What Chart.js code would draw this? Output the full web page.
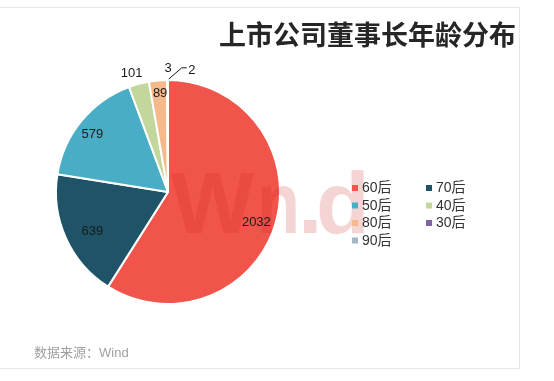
<!DOCTYPE html>
<html>
<head>
<meta charset="utf-8">
<script src="https://cdn.jsdelivr.net/npm/chart.js@4/dist/chart.umd.min.js"></script>
<style>
  html, body { margin: 0; padding: 0; background: #ffffff; }
  #wrap { position: relative; width: 554px; height: 381px; overflow: hidden; }
  #frame { position: absolute; left: -2px; top: 7px; width: 522px; height: 362px;
           border: 1px solid #e6e6e6; box-sizing: border-box; }
  #title { position: absolute; right: 38px; top: 20px; font: bold 27px "Noto Sans CJK SC", sans-serif;
           color: #262626; line-height: 1; white-space: nowrap; }
  #source { position: absolute; left: 34px; top: 345px; font: 13px "Noto Sans CJK SC", sans-serif;
            color: #a0a0a0; line-height: 1; white-space: nowrap; }
  #source span { font-family: "Liberation Sans", Arial, sans-serif; }
  canvas { position: absolute; left: 0; top: 0; }
</style>
</head>
<body>
<div id="wrap">
  <div id="frame"></div>
  <canvas id="c" width="554" height="381"></canvas>
  <div id="title">上市公司董事长年龄分布</div>
  <div id="source">数据来源：<span>Wind</span></div>
</div>
<script>
// Age cohorts of listed-company chairmen and their counts
const categories = ['60后', '70后', '50后', '40后', '80后', '30后', '90后'];
const counts = [2032, 639, 579, 101, 89, 3, 2];
const colors = ['#f0544a', '#1f5468', '#4aadc6', '#c3d69b', '#f6b98b', '#8064a2', '#a5b5c8'];

// Where each value label sits: fraction of the radius along the slice's mid angle,
// plus a small pixel nudge (used for the two tiny slices at the top).
const labelPlacement = [
  { r: 0.84, dx: -2, dy: 4 },
  { r: 0.77, dx: 3, dy: 4 },
  { r: 0.85, dx: -2, dy: 3 },
  { r: 1.11, dx: -4, dy: 1 },
  { r: 0.88, dx: 1, dy: 0 },
  { r: 1.10, dx: 1, dy: 0 },
  { r: 1.10, dx: 24, dy: 2, leader: true }
];

const FONT_LATIN = '"Liberation Sans", Arial, "Noto Sans CJK SC", sans-serif';

// Faint "Wind" mark laid over the plot
const watermark = {
  id: 'watermark',
  afterDatasetsDraw(chart) {
    const ctx = chart.ctx;
    ctx.save();
    ctx.fillStyle = 'rgba(205, 40, 40, 0.2)';
    ctx.font = 'bold 88px ' + FONT_LATIN;
    ctx.textBaseline = 'alphabetic';
    ctx.textAlign = 'left';
    ctx.fillText('W', 171, 233);
    ctx.fillText('n', 257, 233, 43);
    ctx.fillText('.', 298, 233);
    ctx.fillText('d', 316, 233);
    ctx.restore();
  }
};

const valueLabels = {
  id: 'valueLabels',
  afterDatasetsDraw(chart) {
    const ctx = chart.ctx;
    const meta = chart.getDatasetMeta(0);
    ctx.save();
    ctx.font = '13px ' + FONT_LATIN;
    ctx.fillStyle = '#1a1a1a';
    ctx.textAlign = 'center';
    ctx.textBaseline = 'middle';
    meta.data.forEach((arc, i) => {
      const p = arc.getProps(['x', 'y', 'startAngle', 'endAngle', 'outerRadius'], true);
      const mid = (p.startAngle + p.endAngle) / 2;
      const pl = labelPlacement[i];
      const lx = p.x + Math.cos(mid) * p.outerRadius * pl.r + pl.dx;
      const ly = p.y + Math.sin(mid) * p.outerRadius * pl.r + pl.dy;
      if (pl.leader) {
        const ex = p.x + Math.cos(mid) * p.outerRadius;
        const ey = p.y + Math.sin(mid) * p.outerRadius;
        ctx.beginPath();
        ctx.strokeStyle = '#1a1a1a';
        ctx.lineWidth = 1;
        ctx.moveTo(ex + 1, ey - 1);
        ctx.lineTo(lx - 10, ly - 3);
        ctx.lineTo(lx - 5, ly - 3);
        ctx.stroke();
      }
      ctx.fillText(String(counts[i]), lx, ly);
    });
    ctx.restore();
  }
};

// Two-column legend, filled row by row
const gridLegend = {
  id: 'gridLegend',
  afterDraw(chart) {
    const ctx = chart.ctx;
    const x0 = 352, colW = 74, y0 = 188, rowH = 17.5;
    ctx.save();
    ctx.font = '14px ' + FONT_LATIN;
    ctx.textBaseline = 'middle';
    ctx.textAlign = 'left';
    categories.forEach((name, i) => {
      const col = i % 2, row = Math.floor(i / 2);
      const x = x0 + col * colW, y = y0 + row * rowH;
      ctx.fillStyle = colors[i];
      ctx.fillRect(x, y - 3, 6, 6);
      ctx.fillStyle = '#333333';
      ctx.fillText(name, x + 10, y + 0.5);
    });
    ctx.restore();
  }
};

new Chart(document.getElementById('c'), {
  type: 'pie',
  data: {
    labels: categories,
    datasets: [{
      data: counts,
      backgroundColor: colors,
      borderColor: '#ffffff',
      borderWidth: 2
    }]
  },
  options: {
    responsive: false,
    animation: false,
    layout: { padding: { left: 55, top: 79, right: 273, bottom: 76 } },
    plugins: {
      legend: { display: false },
      tooltip: { enabled: false },
      title: { display: false }
    }
  },
  plugins: [watermark, valueLabels, gridLegend]
});
</script>
</body>
</html>
